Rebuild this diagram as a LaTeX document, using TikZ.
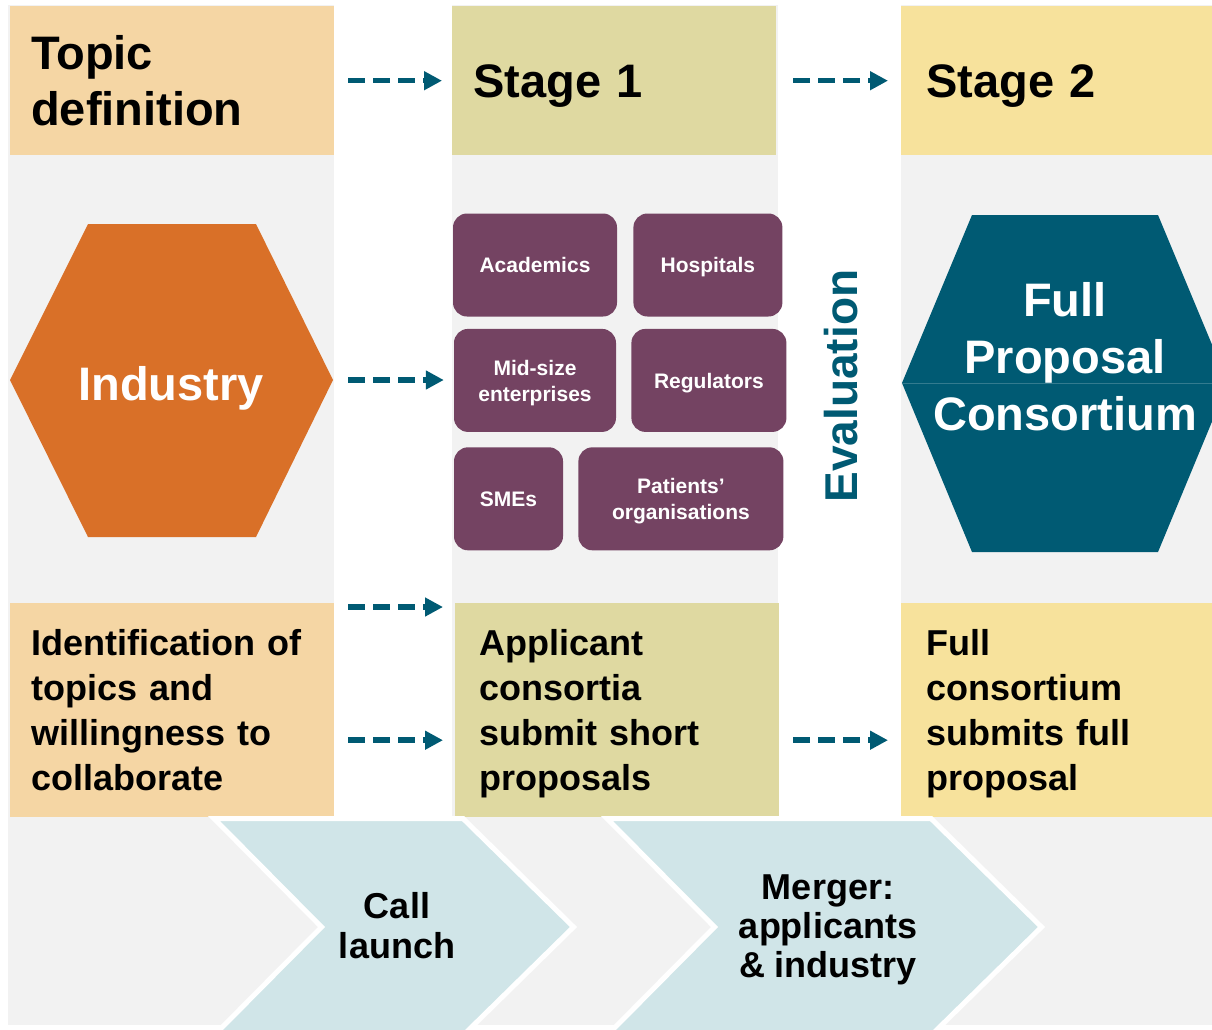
\documentclass[tikz,border=0pt]{standalone}
\usepackage{fontspec}
\setmainfont{Liberation Sans}
\usetikzlibrary{positioning,arrows.meta}
\definecolor{panelgray}{HTML}{F2F2F2}
\definecolor{topicpeach}{HTML}{F5D6A4}
\definecolor{stageone}{HTML}{DFD9A1}
\definecolor{stagetwo}{HTML}{F7E29C}
\definecolor{indorange}{HTML}{D97028}
\definecolor{evalteal}{HTML}{005A73}
\definecolor{partnerplum}{HTML}{744362}
\definecolor{chevblue}{HTML}{D0E5E8}

\begin{document}
\begin{tikzpicture}[x=1pt, y=-1pt,
  head/.style={font=\bfseries\fontsize{47}{56}\selectfont, anchor=north west, inner xsep=21pt,
    minimum height=149pt, text depth=0pt, align=left},
  phasebox/.style={font=\bfseries\fontsize{36}{45}\selectfont, anchor=north west, inner xsep=21pt,
    minimum height=214pt, text depth=135pt, align=left},
  partner/.style={fill=partnerplum, text=white, rounded corners=14pt, align=center,
    font=\bfseries\fontsize{21}{26}\selectfont, minimum height=103pt, text depth=0pt},
  hexlabel/.style={text=white, align=center, text depth=0pt, font=\bfseries\fontsize{47}{57}\selectfont},
  chevron/.style={fill=chevblue, draw=white, line width=5pt, line join=miter},
  chevlabel/.style={align=center, text depth=0pt, font=\bfseries\fontsize{36}{39}\selectfont},
  flow/.style={evalteal, line width=5.5pt, dash pattern=on 17pt off 8pt,
    -{Triangle[length=18pt,width=18pt]}, shorten <=14pt, shorten >=10pt}]

  \useasboundingbox (0,0) rectangle (1212,1029);

  % backdrop: grey columns with white gutters
  \fill[panelgray] (8,5) rectangle (1212,1025);
  \fill[white] (334,0) rectangle (452,817);
  \fill[white] (778,0) rectangle (901,817);

  % header row
  \node[head, fill=topicpeach, text width=282pt, text depth=56pt] (topic) at (10,6) {Topic\\definition};
  \node[head, fill=stageone, text width=282pt] (stage1) at (452,6) {Stage 1};
  \node[head, fill=stagetwo, inner xsep=25pt, text width=261pt] (stage2) at (901,6) {Stage 2};

  % bottom row of boxes
  \node[phasebox, fill=topicpeach, text width=282pt] (ident) at (10,603)
    {Identification of\\topics and\\willingness to\\collaborate};
  \node[phasebox, fill=stageone, inner xsep=24pt, text width=276pt] (apply) at (455,603)
    {Applicant\\consortia\\submit short\\proposals};
  \node[phasebox, fill=stagetwo, inner xsep=25pt, text width=261pt] (full) at (901,603)
    {Full\\consortium\\submits full\\proposal};

  % industry hexagon
  \fill[indorange] (88,224) -- (256,224) -- (333,380) -- (256,537) -- (88,537) -- (10,380) -- cycle;
  \coordinate (indtip) at (333,380);
  \node[hexlabel] (industry) at (171,383) {Industry};

  % partner boxes
  \node[partner, minimum width=164pt] (acad) at (535,265) {Academics};
  \node[partner, minimum width=149pt, right=16pt of acad] (hosp) {Hospitals};
  \node[partner, minimum width=162pt, below=12pt of acad] (mid) {Mid-size\\enterprises};
  \node[partner, minimum width=155pt, right=15pt of mid] (reg) {Regulators};
  \node[partner, minimum width=109pt, below=15pt of mid.south west, anchor=north west] (sme) {SMEs};
  \node[partner, minimum width=205pt, right=15pt of sme] (pat) {Patients’\\organisations};

  \node[rotate=90, text=evalteal, text depth=0pt, font=\bfseries\fontsize{46}{52}\selectfont] (eval)
    at (841,386) {Evaluation};

  \begin{scope}
    \clip (0,0) rectangle (1212,1029);
    % full proposal hexagon (runs off the right edge)
    \fill[evalteal] (972,215) -- (1158,215) -- (1228,383) -- (1158,552) -- (972,552) -- (902,383) -- cycle;
    \draw[evalteal!80!white, line width=0.8pt] (902,383) -- (1228,383);
    % bottom chevrons
    \draw[chevron] (214,818.5) -- (463,818.5) -- (573.5,927) -- (463,1035.5) -- (214,1035.5) -- (321.5,927) -- cycle;
    \draw[chevron] (607,818.5) -- (931,818.5) -- (1041.5,927) -- (931,1035.5) -- (607,1035.5) -- (714.5,927) -- cycle;
  \end{scope}
  \node[hexlabel] (fullcons) at (1065,356) {Full\\Proposal\\Consortium};
  \node[chevlabel, font=\bfseries\fontsize{36}{40}\selectfont] (call) at (397,925) {Call\\launch};
  \node[chevlabel] (merger) at (828,926) {Merger:\\applicants\\\& industry};

  % dashed flow arrows
  \draw[flow] (topic) -- (stage1);
  \draw[flow, shorten <=17pt, shorten >=13pt] (stage1) -- (stage2);
  \draw[flow, shorten <=15pt] (indtip) -- (mid.west |- indtip);
  \draw[flow, shorten >=12pt] ([yshift=-4pt]ident.north east) -- ([yshift=-4pt]apply.north west);
  \draw[flow, shorten >=12pt] ([yshift=-30pt]ident.east) -- ([yshift=-30pt]apply.west);
  \draw[flow, shorten <=14pt, shorten >=13pt] ([yshift=-30pt]apply.east) -- ([yshift=-30pt]full.west);
\end{tikzpicture}
\end{document}
